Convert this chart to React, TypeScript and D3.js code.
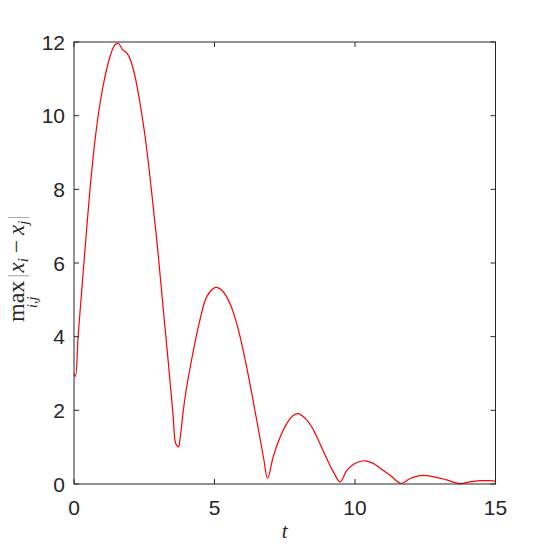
import React from "react";
import * as d3 from "d3";

// sampled from the reference curve
const tValues = [
  0, 0.05, 0.15, 0.27, 0.39, 0.57, 0.75, 0.93, 1.1, 1.28, 1.4, 1.5, 1.58, 1.66,
  1.74, 1.82, 1.9, 1.99, 2.17, 2.35, 2.53, 2.7, 2.88, 3.0, 3.18, 3.36, 3.53,
  3.62, 3.72, 3.77, 3.89, 4.01, 4.1, 4.25, 4.48, 4.72, 4.96, 5.08, 5.31, 5.55,
  5.79, 6.02, 6.26, 6.5, 6.74, 6.89, 7.09, 7.33, 7.57, 7.8, 7.98, 8.28, 8.52,
  8.75, 8.99, 9.23, 9.47, 9.7, 9.94, 10.18, 10.36, 10.65, 10.89, 11.25, 11.63,
  11.96, 12.25, 12.55, 12.91, 13.26, 13.76, 14.09, 14.45, 14.8, 15,
];
const maxDiff = [
  3.0, 2.92, 4.05, 5.2, 6.35, 8.0, 9.35, 10.35, 11.05, 11.6, 11.85, 11.95,
  11.96, 11.88, 11.78, 11.74, 11.68, 11.55, 11.07, 10.34, 9.44, 8.36, 7.09, 6.2,
  4.72, 3.27, 1.83, 1.1, 1.01, 1.2, 2.0, 2.64, 3.02, 3.63, 4.45, 5.08, 5.31,
  5.34, 5.22, 4.9, 4.36, 3.63, 2.73, 1.74, 0.74, 0.15, 0.74, 1.26, 1.64, 1.86,
  1.91, 1.74, 1.47, 1.1, 0.7, 0.33, 0.06, 0.36, 0.53, 0.61, 0.63, 0.56, 0.43,
  0.24, 0.02, 0.15, 0.22, 0.23, 0.18, 0.11, 0.01, 0.06, 0.09, 0.09, 0.08,
];
const xTicks = [0, 5, 10, 15];
const yTicks = [0, 2, 4, 6, 8, 10, 12];

export default function App() {
  const width = 547;
  const height = 547;
  const left = 74;
  const right = 495.5;
  const top = 42;
  const bottom = 484;
  const tick = 5;
  const axisColor = "#262626";

  const x = d3.scaleLinear().domain([0, 15]).range([left, right]);
  const y = d3.scaleLinear().domain([0, 12]).range([bottom, top]);

  const points: [number, number][] = tValues.map((t, i) => [t, maxDiff[i]]);
  const line = d3
    .line<[number, number]>()
    .x((d) => x(d[0]))
    .y((d) => y(d[1]))
    .curve(d3.curveCatmullRom.alpha(0.5));

  const tickFont = { fontFamily: "'Liberation Sans', Arial, sans-serif", fontSize: 21 };
  const serif = "'Liberation Serif', 'Times New Roman', serif";

  return (
    <svg
      width={width}
      height={height}
      style={{ position: "absolute", left: 0, top: 0, background: "#fff" }}
    >
      <rect width={width} height={height} fill="#fff" />
      <path d={line(points) ?? ""} fill="none" stroke="#ff0000" strokeWidth={1.2} />

      <rect
        x={left}
        y={top}
        width={right - left}
        height={bottom - top}
        fill="none"
        stroke={axisColor}
        strokeWidth={1}
      />
      {xTicks.map((v) => (
        <g key={"x" + v}>
          <line x1={x(v)} x2={x(v)} y1={bottom} y2={bottom - tick} stroke={axisColor} />
          <line x1={x(v)} x2={x(v)} y1={top} y2={top + tick} stroke={axisColor} />
          <text x={x(v)} y={515} textAnchor="middle" fill={axisColor} style={tickFont}>
            {v}
          </text>
        </g>
      ))}
      {yTicks.map((v) => (
        <g key={"y" + v}>
          <line x1={left} x2={left + tick} y1={y(v)} y2={y(v)} stroke={axisColor} />
          <line x1={right} x2={right - tick} y1={y(v)} y2={y(v)} stroke={axisColor} />
          <text
            x={65}
            y={y(v)}
            dy="0.36em"
            textAnchor="end"
            fill={axisColor}
            style={tickFont}
          >
            {v}
          </text>
        </g>
      ))}

      <text
        x={(left + right) / 2}
        y={538}
        textAnchor="middle"
        fontFamily={serif}
        fontStyle="italic"
        fontSize={21}
        fill={axisColor}
      >
        t
      </text>

      <g transform={`translate(24, ${(top + bottom) / 2}) rotate(-90)`} fill={axisColor}>
        <text x={-59} y={0} fontFamily={serif} fontSize={24}>
          max
        </text>
        <text x={-45} y={13} fontFamily={serif} fontStyle="italic" fontSize={14}>
          i,j
        </text>
        <text x={-15} y={0} fontFamily={serif} fontSize={23}>
          <tspan fill="#aaa">|</tspan>
          <tspan fontStyle="italic" dx={1}>x</tspan>
          <tspan fontStyle="italic" fontSize={15} dy={4}>i</tspan>
          <tspan dy={-4} dx={5}>−</tspan>
          <tspan fontStyle="italic" dx={5}>x</tspan>
          <tspan fontStyle="italic" fontSize={15} dy={4}>j</tspan>
          <tspan fill="#aaa" dy={-4} dx={1}>|</tspan>
        </text>
      </g>
    </svg>
  );
}
